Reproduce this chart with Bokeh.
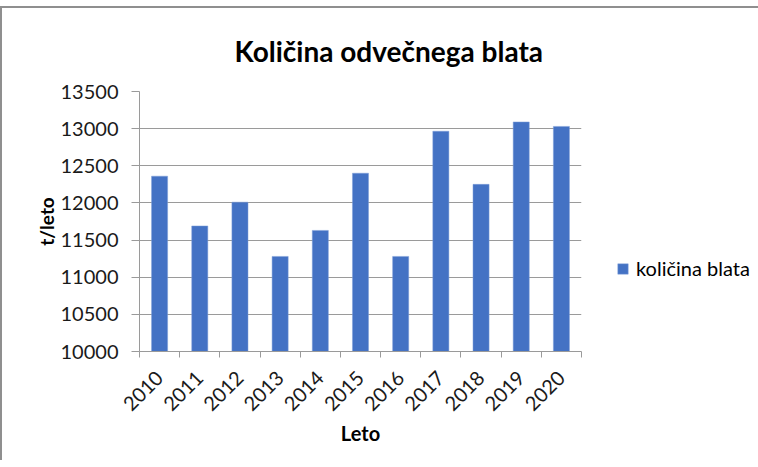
from bokeh.plotting import figure
from bokeh.models import (Range1d, FixedTicker, Legend, LegendItem, ColumnDataSource,
                          BasicTickFormatter)
from bokeh.embed import file_html
from bokeh.resources import INLINE
import math

# ---- data ----
years = ["2010", "2011", "2012", "2013", "2014", "2015", "2016", "2017", "2018", "2019", "2020"]
kolicina_blata = [12360, 11690, 12010, 11280, 11630, 12400, 11280, 12965, 12250, 13090, 13030]
y_ticks = [10000, 10500, 11000, 11500, 12000, 12500, 13000, 13500]
title_text = "Količina odvečnega blata"
series_name = "količina blata"
x_label = "Leto"
y_label = "t/leto"

FONT = "Lato"
GRAY = "#9a9a9a"
BAR = "#4472C4"

n = len(years)
centers = [i + 0.5 for i in range(n)]
bounds = list(range(n + 1))

src = ColumnDataSource(dict(x=centers, top=kolicina_blata, year=years))

p = figure(width=742, height=445, output_backend="svg", toolbar_location=None,
           x_range=Range1d(0, n), y_range=Range1d(y_ticks[0], y_ticks[-1]),
           min_border_left=137, min_border_right=163, min_border_top=40, min_border_bottom=109)
p.frame_width = 442
p.frame_height = 260
p.styles = {"position": "relative", "top": "6px",
            "border-top": "2px solid #8f8f8f", "border-left": "2px solid #8f8f8f"}

r = p.vbar(x="x", top="top", bottom=y_ticks[0], width=0.4, source=src,
           fill_color=BAR, line_color="#7f9fd8", line_width=0.5)

# title
p.title.text = title_text
p.title.text_font = FONT
p.title.text_font_size = "28px"
p.title.text_font_style = "bold"
p.title.text_color = "#000000"
p.title.align = "left"
p.title.offset = 95
p.title.standoff = 47

# outline / grid
p.outline_line_color = None
p.xgrid.grid_line_color = None
p.ygrid.grid_line_color = GRAY
p.ygrid.grid_line_width = 1
p.ygrid.ticker = FixedTicker(ticks=y_ticks)

# y axis
ya = p.yaxis[0]
ya.ticker = FixedTicker(ticks=y_ticks)
ya.formatter = BasicTickFormatter(use_scientific=False)
ya.axis_line_color = GRAY
ya.major_tick_line_color = GRAY
ya.major_tick_out = 8
ya.major_tick_in = 0
ya.minor_tick_line_color = None
ya.major_label_text_font = FONT
ya.major_label_text_font_size = "20px"
ya.major_label_text_color = "#1a1a1a"
ya.major_label_standoff = 13
ya.axis_label = y_label
ya.axis_label_text_font = FONT
ya.axis_label_text_font_size = "19px"
ya.axis_label_text_font_style = "bold"
ya.axis_label_text_color = "#000000"
ya.axis_label_standoff = 0

# x axis
xa = p.xaxis[0]
xa.ticker = FixedTicker(ticks=centers, minor_ticks=bounds)
xa.major_label_overrides = {c: y for c, y in zip(centers, years)}
xa.axis_line_color = GRAY
xa.major_tick_line_color = None
xa.major_tick_out = 0
xa.major_tick_in = 0
xa.minor_tick_line_color = GRAY
xa.minor_tick_out = 6
xa.minor_tick_in = 0
xa.major_label_orientation = math.pi / 4
xa.major_label_text_font = FONT
xa.major_label_text_font_size = "20px"
xa.major_label_text_color = "#1a1a1a"
xa.major_label_standoff = 17
xa.axis_label = x_label
xa.axis_label_text_font = FONT
xa.axis_label_text_font_size = "20px"
xa.axis_label_text_font_style = "bold"
xa.axis_label_text_color = "#000000"
xa.axis_label_standoff = 1

# legend
legend = Legend(items=[LegendItem(label=series_name, renderers=[r])],
                location=(35, 71), orientation="vertical",
                border_line_color=None, background_fill_alpha=0,
                padding=0, margin=0, spacing=0,
                glyph_width=13, glyph_height=13, label_standoff=7,
                label_text_font=FONT, label_text_font_size="20px",
                label_text_color="#000000")
p.add_layout(legend, "right")

open("out.html", "w").write(file_html(p, INLINE))
